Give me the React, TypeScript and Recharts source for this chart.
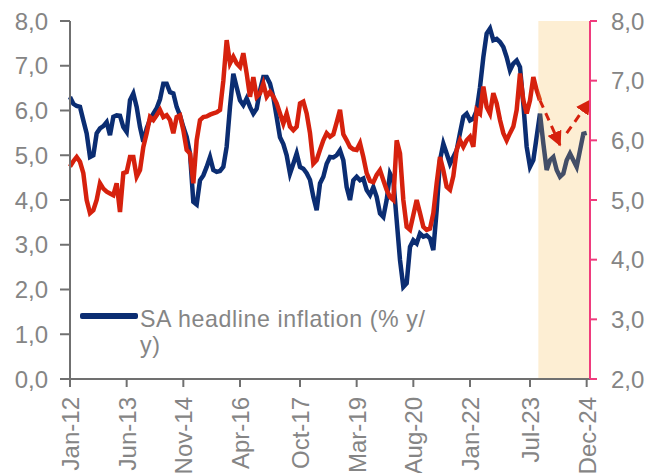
import React from 'react';
import { LineChart, Line, XAxis, YAxis, ReferenceArea, Legend } from 'recharts';

// Month index 0 = Jan-12 ... 155 = Dec-24
const SA_HEADLINE: number[] = [
  6.30, 6.15, 6.10, 6.08, 5.78, 5.49, 4.96, 5.00, 5.49, 5.60,
  5.65, 5.74, 5.45, 5.86, 5.89, 5.88, 5.63, 5.52, 6.23, 6.38,
  6.08, 5.63, 5.30, 5.60, 5.80, 5.93, 6.05, 6.25, 6.60, 6.60,
  6.41, 6.38, 6.08, 5.89, 5.63, 5.41, 5.04, 3.96, 3.90, 4.44,
  4.55, 4.74, 4.96, 4.67, 4.63, 4.65, 4.74, 5.19, 6.08, 6.82,
  6.52, 6.23, 6.12, 6.27, 6.08, 5.93, 6.04, 6.45, 6.75, 6.75,
  6.60, 6.30, 5.85, 5.40, 5.25, 5.00, 4.59, 4.81, 5.04, 4.74,
  4.70, 4.60, 4.45, 4.07, 3.77, 4.37, 4.52, 4.81, 4.96, 4.95,
  5.00, 5.11, 4.89, 4.29, 4.00, 4.44, 4.52, 4.44, 4.48, 4.22,
  4.11, 4.29, 4.07, 3.70, 3.62, 4.00, 4.59, 4.44, 3.55, 2.66,
  2.06, 2.14, 2.95, 3.10, 3.03, 3.25, 3.18, 3.21, 3.14, 2.88,
  3.77, 4.89, 5.26, 5.04, 4.81, 4.96, 5.11, 5.50, 5.86, 5.93,
  5.78, 5.82, 6.00, 6.52, 7.19, 7.72, 7.83, 7.57, 7.60, 7.53,
  7.42, 7.19, 6.90, 7.05, 7.12, 6.97, 6.15, 5.19, 4.74, 4.89,
  5.41, 5.93, 5.26, 4.67, 4.89, 4.96, 4.67, 4.52, 4.59, 4.89,
  5.04, 4.89, 4.74, 5.11, 5.48, 5.50,
];

// Right-axis series (red), month index 0 .. 141
const RIGHT_SERIES: number[] = [
  5.56, 5.65, 5.72, 5.64, 5.45, 5.00, 4.78, 4.83, 5.00, 5.28,
  5.19, 5.14, 5.11, 5.08, 5.28, 4.80, 5.45, 5.47, 5.72, 5.72,
  5.39, 5.50, 5.89, 6.12, 6.39, 6.34, 6.42, 6.51, 6.39, 6.42,
  6.34, 6.12, 6.39, 6.42, 6.17, 5.84, 5.78, 5.28, 6.00, 6.34,
  6.39, 6.40, 6.43, 6.45, 6.47, 6.51, 7.00, 7.68, 7.29, 7.40,
  7.29, 7.23, 7.46, 7.12, 6.73, 7.06, 6.73, 6.79, 6.95, 6.73,
  6.81, 6.73, 6.62, 6.45, 6.28, 6.45, 6.23, 6.17, 6.23, 6.62,
  6.65, 6.45, 6.12, 5.61, 5.67, 5.84, 6.00, 6.12, 6.06, 6.10,
  6.30, 6.51, 6.10, 6.00, 5.89, 5.85, 5.84, 5.95, 5.72, 5.45,
  5.32, 5.30, 5.42, 5.50, 5.33, 5.17, 5.05, 5.00, 6.00, 5.78,
  5.00, 4.55, 4.50, 4.75, 5.00, 4.78, 4.55, 4.50, 4.52, 4.78,
  5.28, 5.72, 5.50, 5.22, 5.17, 5.40, 5.84, 6.00, 5.89, 6.00,
  6.06, 5.89, 6.51, 6.45, 6.90, 6.56, 6.45, 6.79, 6.62, 6.34,
  6.12, 6.00, 6.12, 6.23, 6.51, 7.12, 6.67, 6.45, 6.67, 7.06,
  6.84, 6.67,
];

const X_TICKS: number[] = [0, 17, 34, 51, 69, 86, 103, 120, 138, 155];
const X_TICK_LABELS: string[] = ['Jan-12', 'Jun-13', 'Nov-14', 'Apr-16', 'Oct-17', 'Mar-19', 'Aug-20', 'Jan-22', 'Jul-23', 'Dec-24'];
const LEFT_TICKS: number[] = [0, 1, 2, 3, 4, 5, 6, 7, 8];
const RIGHT_TICKS: number[] = [2, 3, 4, 5, 6, 7, 8];

const SHADE_START = 140.5;
const SHADE_END = 156;

const ARROW_DOWN_M: number[] = [141, 147];
const ARROW_DOWN_V: number[] = [6.67, 5.92];
const ARROW_UP_M: number[] = [149, 156];
const ARROW_UP_V: number[] = [6.12, 6.67];

const LEGEND_LINES: string[] = ['SA headline inflation (% y/', 'y)'];

const NAVY = '#0b2d72';
const RED = '#d6210d';
const PINK = '#ef3b7d';
const GREY_TEXT = '#858585';
const AXIS_GREY = '#707070';
const FONT = '"Liberation Sans", Arial, sans-serif';

const data = SA_HEADLINE.map((v, i) => ({
  m: i,
  sa: v,
  other: i < RIGHT_SERIES.length ? RIGHT_SERIES[i] : null,
}));
const arrowDown = ARROW_DOWN_M.map((m, i) => ({ m, v: ARROW_DOWN_V[i] }));
const arrowUp = ARROW_UP_M.map((m, i) => ({ m, v: ARROW_UP_V[i] }));

const fmt = (v: number) => v.toFixed(1).replace('.', ',');

const XTick = (props: any) => {
  const { x, y, payload } = props;
  const idx = X_TICKS.indexOf(payload.value);
  const label = idx >= 0 ? X_TICK_LABELS[idx] : '';
  return (
    <text
      x={x}
      y={y}
      transform={`rotate(-90 ${x} ${y})`}
      textAnchor="end"
      dy="0.38em"
      fill={GREY_TEXT}
      fontSize={24}
      fontFamily={FONT}
    >
      {label}
    </text>
  );
};

const LegendContent = () => (
  <div style={{ position: 'relative', width: 400, height: 60, fontFamily: FONT }}>
    <div style={{ position: 'absolute', left: 0, top: 7, width: 58, height: 6, background: NAVY, borderRadius: 2 }} />
    <div
      style={{
        position: 'absolute',
        left: 60,
        top: 0,
        fontSize: 23.2,
        lineHeight: '26px',
        letterSpacing: '0.6px',
        color: GREY_TEXT,
        whiteSpace: 'nowrap',
      }}
    >
      {LEGEND_LINES.map((l, i) => (
        <div key={i}>{l}</div>
      ))}
    </div>
  </div>
);

export default function App() {
  return (
    <div style={{ position: 'absolute', left: 0, top: 0, width: 660, height: 473, background: '#fff' }}>
      <svg width={0} height={0} style={{ position: 'absolute' }}>
        <defs>
          <marker
            id="arrowRed"
            viewBox="0 0 10 10"
            refX="9"
            refY="5"
            markerWidth={15}
            markerHeight={15}
            markerUnits="userSpaceOnUse"
            orient="auto"
          >
            <path d="M0,0 L10,5 L0,10 z" fill={RED} />
          </marker>
        </defs>
      </svg>
      <LineChart width={660} height={473} data={data} margin={{ top: 21, right: 0, bottom: 0, left: 0 }}>
        <XAxis
          dataKey="m"
          type="number"
          domain={[0, 156]}
          ticks={X_TICKS}
          interval={0}
          height={94}
          tickSize={8}
          tickMargin={10}
          stroke={AXIS_GREY}
          strokeWidth={2}
          tick={<XTick />}
        />
        <YAxis
          yAxisId="left"
          orientation="left"
          domain={[0, 8]}
          ticks={LEFT_TICKS}
          width={70}
          tickSize={10}
          tickMargin={12}
          stroke={AXIS_GREY}
          strokeWidth={2}
          tickFormatter={fmt}
          tick={{ fill: GREY_TEXT, fontSize: 24, fontFamily: FONT }}
        />
        <YAxis
          yAxisId="right"
          orientation="right"
          domain={[2, 8]}
          ticks={RIGHT_TICKS}
          width={70}
          tickSize={7}
          tickMargin={14}
          stroke={PINK}
          strokeWidth={2}
          tickFormatter={fmt}
          tick={{ fill: GREY_TEXT, fontSize: 24, fontFamily: FONT }}
        />
        <Line
          yAxisId="left"
          dataKey="sa"
          name="SA headline inflation (% y/y)"
          stroke={NAVY}
          strokeWidth={4.5}
          dot={false}
          type="linear"
          isAnimationActive={false}
        />
        <Line
          yAxisId="right"
          dataKey="other"
          stroke={RED}
          strokeWidth={4.5}
          dot={false}
          type="linear"
          isAnimationActive={false}
          legendType="none"
        />
        <ReferenceArea
          yAxisId="left"
          x1={SHADE_START}
          x2={SHADE_END}
          fill="#f6b645"
          fillOpacity={0.24}
          stroke="none"
          ifOverflow="visible"
          {...({ zIndex: 450 } as any)}
        />
        <Line
          yAxisId="right"
          data={arrowDown}
          dataKey="v"
          stroke={RED}
          strokeWidth={3}
          strokeDasharray="8 6"
          dot={false}
          type="linear"
          isAnimationActive={false}
          legendType="none"
          markerEnd="url(#arrowRed)"
          {...({ zIndex: 460 } as any)}
        />
        <Line
          yAxisId="right"
          data={arrowUp}
          dataKey="v"
          stroke={RED}
          strokeWidth={3}
          strokeDasharray="8 6"
          dot={false}
          type="linear"
          isAnimationActive={false}
          legendType="none"
          markerEnd="url(#arrowRed)"
          {...({ zIndex: 460 } as any)}
        />
        <Legend
          layout="horizontal"
          verticalAlign="middle"
          align="center"
          wrapperStyle={{ left: 80, top: 306, width: 400, height: 60 }}
          content={<LegendContent />}
        />
      </LineChart>
    </div>
  );
}
